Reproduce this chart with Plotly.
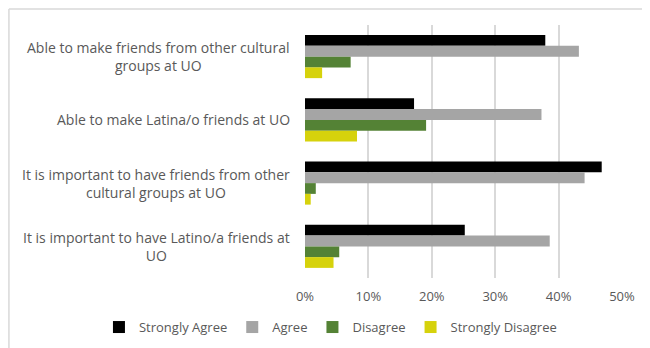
import plotly.graph_objects as go

categories = [
    "Able to make friends from other cultural<br>groups at UO",
    "Able to make Latina/o friends at UO",
    "It is important to have friends from other<br>cultural groups at UO",
    "It is important to have Latino/a friends at<br>UO",
]
series_names = ["Strongly Agree", "Agree", "Disagree", "Strongly Disagree"]
strongly_agree = [0.379, 0.172, 0.468, 0.252]
agree = [0.432, 0.373, 0.441, 0.386]
disagree = [0.072, 0.191, 0.017, 0.054]
strongly_disagree = [0.027, 0.082, 0.009, 0.045]
x_ticks = [0, 0.1, 0.2, 0.3, 0.4, 0.5]
x_tick_labels = ["0%", "10%", "20%", "30%", "40%", "50%"]

colors = ["#000000", "#a5a5a5", "#548235", "#d6d20c"]
values = [strongly_agree, agree, disagree, strongly_disagree]

fig = go.Figure()
for name, vals, col in zip(series_names, values, colors):
    fig.add_trace(go.Bar(
        y=categories, x=vals, name=name, orientation="h",
        marker=dict(color=col, line=dict(width=0)),
    ))

font_family = "'Open Sans', sans-serif"
grey = "#595959"

for c in categories:
    fig.add_annotation(
        x=-0.042, xref="paper", y=c, yref="y", text=c, showarrow=False,
        xanchor="right", align="center",
        font=dict(family=font_family, size=14, color=grey),
    )

# chart border (top and left, as in reference)
fig.add_shape(type="line", xref="paper", yref="paper", x0=-0.934, x1=1.2,
              y0=1.063, y1=1.063, line=dict(color="#d9d9d9", width=1.5))
fig.add_shape(type="line", xref="paper", yref="paper", x0=-0.934, x1=-0.934,
              y0=1.063, y1=-0.3, line=dict(color="#d9d9d9", width=1.5))

fig.update_layout(
    width=642, height=340,
    margin=dict(l=297, r=28, t=17, b=70, autoexpand=False),
    paper_bgcolor="white", plot_bgcolor="white",
    barmode="group", bargap=0.32, bargroupgap=0,
    font=dict(family=font_family, size=13, color=grey),
    showlegend=True,
    legend=dict(orientation="h", x=-0.650, xanchor="left", y=-0.194, yanchor="middle",
                font=dict(family=font_family, size=13, color=grey),
                traceorder="normal", itemwidth=30, tracegroupgap=0),
    xaxis=dict(range=[0, 0.5], tickvals=x_ticks, ticktext=x_tick_labels,
               showgrid=True, gridcolor="#d9d9d9", gridwidth=1.5, zeroline=False,
               showline=False, ticks="", ticklabelstandoff=9,
               tickfont=dict(size=13, color=grey)),
    yaxis=dict(autorange="reversed", showticklabels=False, showgrid=False,
               zeroline=False, showline=False, ticks=""),
)
fig.write_html("out.html")
